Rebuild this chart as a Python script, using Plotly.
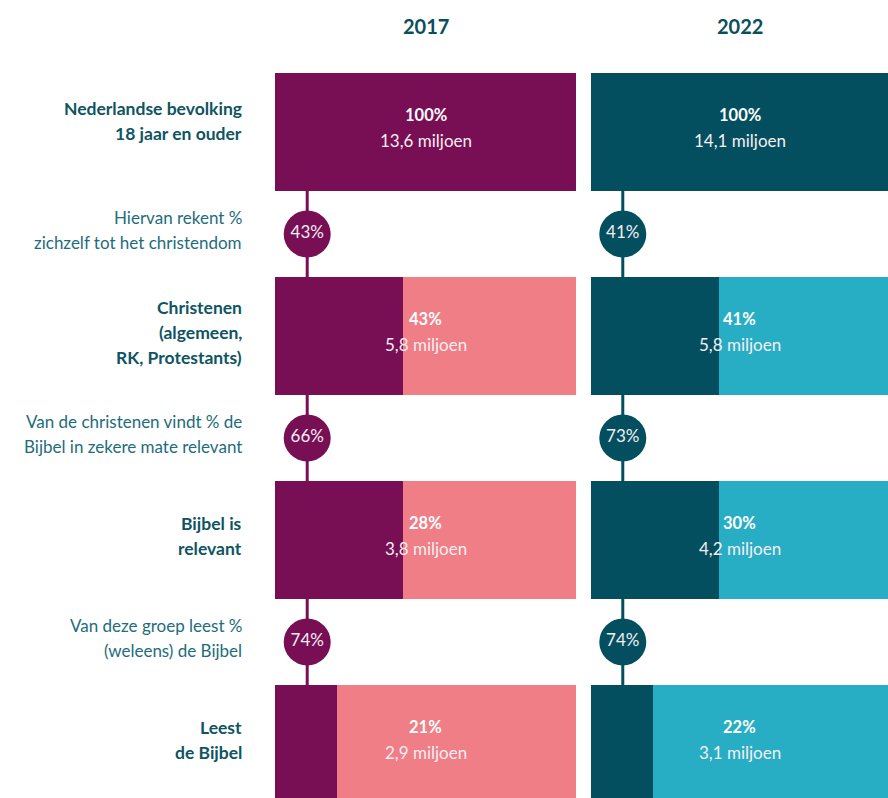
import plotly.graph_objects as go

# ---------------- data ----------------
years = ["2017", "2022"]
row_labels = [
    ["Nederlandse bevolking", "18 jaar en ouder"],
    ["Christenen", "(algemeen,", "RK, Protestants)"],
    ["Bijbel is", "relevant"],
    ["Leest", "de Bijbel"],
]
step_labels = [
    ["Hiervan rekent %", "zichzelf tot het christendom"],
    ["Van de christenen vindt % de", "Bijbel in zekere mate relevant"],
    ["Van deze groep leest %", "(weleens) de Bijbel"],
]
pct_2017 = [100, 43, 28, 21]
mln_2017 = ["13,6", "5,8", "3,8", "2,9"]
dark_2017 = [100, 42.5, 42.5, 20.7]   # drawn width of the dark segment
step_2017 = [43, 66, 74]

pct_2022 = [100, 41, 30, 22]
mln_2022 = ["14,1", "5,8", "4,2", "3,1"]
dark_2022 = [100, 43, 43, 21]
step_2022 = [41, 73, 74]

# ---------------- style ----------------
FONT = "Lato"
COL_DARK = {"2017": "#780f55", "2022": "#034f5f"}
COL_LIGHT = {"2017": "#f07e86", "2022": "#27aec4"}
TXT_BOLD = "#0e5463"
TXT_REG = "#1e6c7c"
BAR_W = 0.578
LINE_X = 10.7

W, H = 888, 798
rows = list(range(len(row_labels)))
steps = [r + 0.5 for r in range(len(step_labels))]

series = {
    "2017": dict(pct=pct_2017, mln=mln_2017, dark=dark_2017, step=step_2017, xa="x"),
    "2022": dict(pct=pct_2022, mln=mln_2022, dark=dark_2022, step=step_2022, xa="x2"),
}

fig = go.Figure()
annotations = []

for yr in years:
    s = series[yr]
    xa = s["xa"]
    # connector line
    fig.add_trace(go.Scatter(x=[LINE_X, LINE_X], y=[rows[0], rows[-1]], mode="lines",
                             line=dict(color=COL_DARK[yr], width=3), xaxis=xa, yaxis="y",
                             hoverinfo="skip", showlegend=False))
    # dark bars
    fig.add_trace(go.Bar(orientation="h", y=rows, x=s["dark"], base=[0] * len(rows),
                         width=BAR_W, marker=dict(color=COL_DARK[yr], line=dict(width=0)),
                         xaxis=xa, yaxis="y", showlegend=False, hoverinfo="skip"))
    # light bars
    fig.add_trace(go.Bar(orientation="h", y=rows, x=[100 - d for d in s["dark"]], base=s["dark"],
                         width=BAR_W, marker=dict(color=COL_LIGHT[yr], line=dict(width=0)),
                         xaxis=xa, yaxis="y", showlegend=False, hoverinfo="skip"))
    # circles
    fig.add_trace(go.Scatter(x=[LINE_X] * len(steps), y=steps, mode="markers+text",
                             marker=dict(size=47, color=COL_DARK[yr], line=dict(width=0)),
                             text=[f"{v}%" for v in s["step"]], textposition="middle center",
                             textfont=dict(family=FONT, size=17, color="#f4eef3"),
                             xaxis=xa, yaxis="y", hoverinfo="skip", showlegend=False))
    # in-bar labels
    for r, p, m in zip(rows, s["pct"], s["mln"]):
        annotations.append(dict(x=50, y=r, xref=xa, yref="y", text=f"<b>{p}%</b>",
                                showarrow=False, yshift=17,
                                font=dict(family=FONT, size=16.5, color="white")))
        annotations.append(dict(x=50, y=r, xref=xa, yref="y", text=f"{m} miljoen",
                                showarrow=False, yshift=-8,
                                font=dict(family=FONT, size=17, color="#f6eef2")))
    # header
    annotations.append(dict(x=0.5, xref=f"{xa} domain", y=1 - 26 / H, yref="paper",
                            text=f"<b>{yr}</b>", showarrow=False, yanchor="middle",
                            font=dict(family=FONT, size=20, color="#0b4f5c")))

LINE_GAP = 25
LABEL_X = 244 / W
for r, lines in zip(rows, row_labels):
    off = 11 if r == 0 else 4
    n = len(lines)
    for i, t in enumerate(lines):
        shift = off - (i - (n - 1) / 2) * LINE_GAP
        annotations.append(dict(x=LABEL_X, xref="paper", y=r, yref="y", text=f"<b>{t}</b>",
                                xanchor="right", showarrow=False, yshift=shift,
                                font=dict(family=FONT, size=17.5, color=TXT_BOLD)))
for st, lines in zip(steps, step_labels):
    n = len(lines)
    for i, t in enumerate(lines):
        shift = 4 - (i - (n - 1) / 2) * LINE_GAP
        annotations.append(dict(x=LABEL_X, xref="paper", y=st, yref="y", text=t,
                                xanchor="right", showarrow=False, yshift=shift,
                                font=dict(family=FONT, size=17, color=TXT_REG)))

px_per_row = 204
top = -132 / px_per_row
bottom = top + H / px_per_row

fig.update_layout(
    width=W, height=H, margin=dict(l=0, r=0, t=0, b=0),
    paper_bgcolor="white", plot_bgcolor="white",
    barmode="overlay", bargap=0,
    xaxis=dict(domain=[275 / W, 576 / W], range=[0, 100], visible=False, fixedrange=True),
    xaxis2=dict(domain=[591 / W, 1], range=[0, 100], visible=False, anchor="y", fixedrange=True),
    yaxis=dict(domain=[0, 1], range=[bottom, top], visible=False, fixedrange=True),
    annotations=annotations,
    showlegend=False,
)

fig.write_html(
    "out.html",
    config={"displayModeBar": False, "staticPlot": True},
    post_script="document.body.style.margin='0';document.body.style.overflow='hidden';",
)
